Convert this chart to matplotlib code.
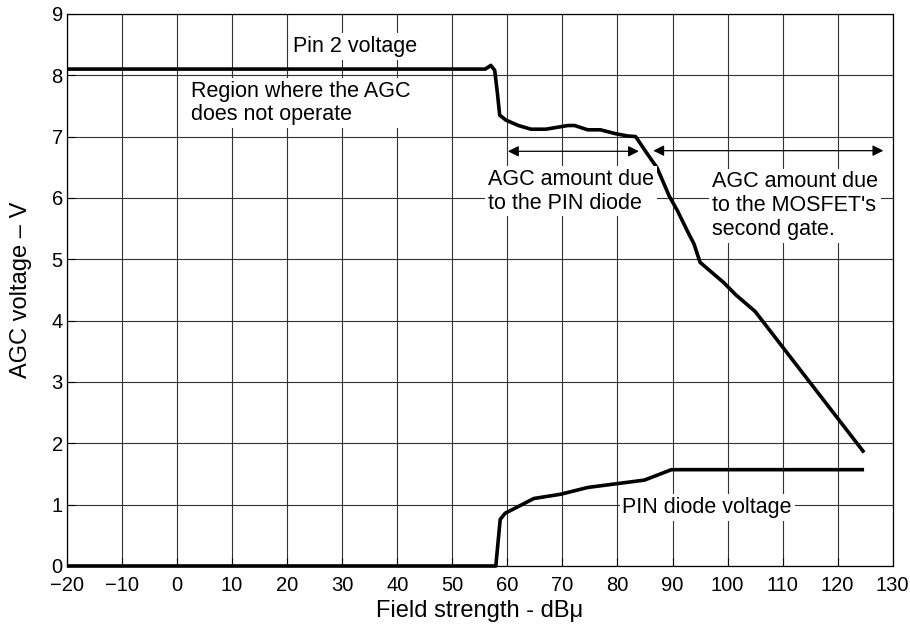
import matplotlib.pyplot as plt

plt.rcParams['font.family'] = ['Liberation Sans', 'DejaVu Sans']

# Pin 2 voltage (upper curve)
pin2_x = [-20, 56, 57, 57.7, 58.2, 58.6, 59.7, 62, 64.3, 67, 69, 71, 72.2, 74.6, 76.9,
          79.5, 81.8, 83.3, 85.4, 87.2, 89.4, 90.9, 92.7, 93.9, 95.0, 99.3, 101.5, 105, 124.8]
pin2_y = [8.1, 8.1, 8.16, 8.08, 7.7, 7.35, 7.27, 7.18, 7.12, 7.12, 7.15, 7.18, 7.18, 7.11, 7.11,
          7.05, 7.01, 7.0, 6.72, 6.49, 6.03, 5.79, 5.46, 5.25, 4.95, 4.62, 4.42, 4.15, 1.85]

# PIN diode voltage (lower curve)
pin_x = [-20, 57.9, 58.7, 59.6, 62, 64.8, 69.7, 74.6, 84.9, 89.8, 124.8]
pin_y = [0, 0, 0.76, 0.86, 0.97, 1.1, 1.17, 1.28, 1.4, 1.57, 1.57]

x_ticks = list(range(-20, 131, 10))
y_ticks = list(range(0, 10))

# arrow spans (x start, x end, y)
arrow_pin = (60.1, 83.9, 6.76)
arrow_mosfet = (86.5, 128.3, 6.77)

fig = plt.figure(figsize=(9.1, 6.3), dpi=100)
ax = fig.add_axes([0.0736, 0.1016, 0.9074, 0.8764])

ax.set_xlim(-20, 130)
ax.set_ylim(0, 9)
ax.set_xticks(x_ticks)
ax.set_yticks(y_ticks)
ax.grid(True, color='#333333', lw=0.8)
ax.set_axisbelow(True)
ax.tick_params(direction='in', length=6, width=0.8, labelsize=14.5, colors='black')
ax.tick_params(axis='x', pad=7)
ax.tick_params(axis='y', pad=3)
for lbl in ax.get_yticklabels():
    lbl.set_va('center_baseline')
for s in ax.spines.values():
    s.set_linewidth(0.9)

ax.plot(pin2_x, pin2_y, color='black', lw=2.6, solid_capstyle='butt', zorder=3)
ax.plot(pin_x, pin_y, color='black', lw=2.6, solid_capstyle='butt', zorder=3, clip_on=False)

for x0, x1, yy in (arrow_pin, arrow_mosfet):
    ax.annotate('', xy=(x0, yy), xytext=(x1, yy),
                arrowprops=dict(arrowstyle='<|-|>', color='black', lw=0.9,
                                mutation_scale=16, shrinkA=0, shrinkB=0))

fs = 15.5
box = dict(facecolor='white', edgecolor='none', pad=2)
ax.text(32.4, 8.47, 'Pin 2 voltage', fontsize=fs, ha='center', va='center', bbox=box)
ax.text(2.6, 7.55, 'Region where the AGC\ndoes not operate', fontsize=fs,
        ha='left', va='center', linespacing=1.15, bbox=box)
ax.text(56.5, 6.11, 'AGC amount due\nto the PIN diode', fontsize=fs,
        ha='left', va='center', linespacing=1.18, bbox=box)
ax.text(97.2, 5.87, "AGC amount due\nto the MOSFET's\nsecond gate.", fontsize=fs,
        ha='left', va='center', linespacing=1.18, bbox=box)
ax.text(96.3, 0.95, 'PIN diode voltage', fontsize=fs, ha='center', va='center', bbox=box)

ax.set_xlabel('Field strength - dB\u03bc', fontsize=17, labelpad=4)
ax.set_ylabel('AGC voltage \u2013 V', fontsize=17, labelpad=14)

fig.savefig('out.png', dpi=100)
